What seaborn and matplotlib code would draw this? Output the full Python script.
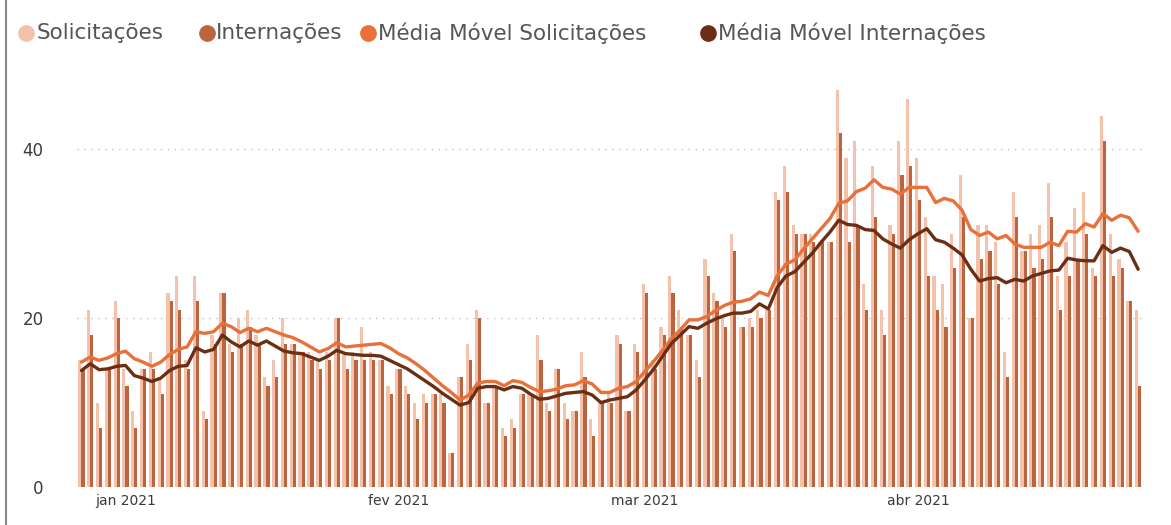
import pandas as pd
import matplotlib.pyplot as plt
import seaborn as sns
from matplotlib.lines import Line2D

# Daily values (27 dez 2020 .. 26 abr 2021)
dias = pd.date_range("2020-12-27", "2021-04-26", freq="D")

solicitacoes = [15, 21, 10, 14, 22, 14, 9, 14, 16, 13, 23, 25, 15, 25, 9, 18, 23, 17, 20, 21,
                18, 13, 15, 20, 17, 16, 16, 15, 16, 20, 16, 16, 19, 16, 15, 12, 14, 12, 10, 11,
                11, 11, 4, 13, 17, 21, 10, 12, 7, 8, 11, 11, 18, 10, 14, 10, 9, 16, 8, 10,
                11, 18, 9, 17, 24, 15, 19, 25, 21, 18, 15, 27, 23, 20, 30, 19, 20, 21, 21, 35,
                38, 31, 30, 30, 29, 29, 47, 39, 41, 24, 38, 21, 31, 41, 46, 39, 32, 25, 24, 30,
                37, 20, 31, 31, 29, 16, 35, 28, 30, 31, 36, 25, 29, 33, 35, 26, 44, 30, 27, 22,
                21]

internacoes = [14, 18, 7, 14, 20, 12, 7, 14, 14, 11, 22, 21, 14, 22, 8, 17, 23, 16, 17, 19,
               17, 12, 13, 17, 17, 16, 15, 14, 15, 20, 14, 15, 15, 15, 15, 11, 14, 11, 8, 10,
               11, 10, 4, 13, 15, 20, 10, 12, 6, 7, 11, 11, 15, 9, 14, 8, 9, 13, 6, 10,
               10, 17, 9, 16, 23, 14, 18, 23, 19, 18, 13, 25, 22, 19, 28, 19, 19, 20, 21, 34,
               35, 30, 30, 29, 29, 29, 42, 29, 31, 21, 32, 18, 30, 37, 38, 34, 25, 21, 19, 26,
               32, 20, 27, 28, 24, 13, 32, 28, 26, 27, 32, 21, 25, 27, 30, 25, 41, 25, 26, 22,
               12]

mm_solicitacoes = [14.8, 15.4, 15.0, 15.3, 15.8, 16.1, 15.2, 14.8, 14.3, 14.8, 15.7, 16.3, 16.6,
                   18.4, 18.2, 18.4, 19.4, 19.0, 18.3, 18.8, 18.4, 18.8, 18.4, 18.0, 17.7, 17.2,
                   16.6, 16.0, 16.4, 17.1, 16.6, 16.7, 16.8, 16.9, 17.0, 16.5, 15.8, 15.3, 14.6,
                   13.8, 12.9, 12.0, 11.2, 10.3, 10.9, 12.3, 12.5, 12.5, 12.0, 12.6, 12.4, 11.8,
                   11.3, 11.4, 11.6, 12.0, 12.1, 12.6, 12.2, 11.2, 11.2, 11.7, 11.9, 12.5, 13.7,
                   14.9, 16.2, 17.6, 18.6, 19.8, 19.8, 20.2, 20.9, 21.5, 21.9, 22.0, 22.3, 23.1,
                   22.7, 25.0, 26.4, 26.9, 28.2, 29.4, 30.6, 31.8, 33.6, 33.9, 35.0, 35.4, 36.4,
                   35.5, 35.3, 34.7, 35.5, 35.5, 35.5, 33.7, 34.2, 33.9, 32.8, 30.5, 29.8, 30.2,
                   29.4, 29.8, 28.8, 28.4, 28.4, 28.4, 29.0, 28.6, 30.3, 30.2, 31.2, 30.8, 32.4,
                   31.6, 32.2, 31.9, 30.3]

mm_internacoes = [13.8, 14.6, 13.9, 14.0, 14.3, 14.4, 13.2, 12.9, 12.5, 12.9, 13.8, 14.3, 14.4,
                  16.5, 16.0, 16.3, 18.0, 17.2, 16.6, 17.3, 16.8, 17.3, 16.7, 16.1, 15.9, 15.8,
                  15.4, 15.0, 15.5, 16.2, 15.8, 15.7, 15.6, 15.6, 15.5, 15.0, 14.5, 14.0, 13.3,
                  12.6, 11.9, 11.1, 10.4, 9.7, 10.0, 11.7, 11.9, 11.9, 11.5, 11.9, 11.7, 11.0,
                  10.4, 10.5, 10.8, 11.1, 11.2, 11.3, 10.9, 10.0, 10.3, 10.5, 10.7, 11.5, 12.7,
                  14.0, 15.5, 17.0, 18.0, 19.0, 18.8, 19.4, 19.9, 20.3, 20.6, 20.6, 20.8, 21.7,
                  21.1, 23.6, 25.0, 25.5, 26.6, 27.7, 29.0, 30.2, 31.6, 31.1, 31.0, 30.5, 30.4,
                  29.4, 28.8, 28.3, 29.3, 30.0, 30.6, 29.3, 29.0, 28.3, 27.5, 25.8, 24.4, 24.7,
                  24.8, 24.2, 24.6, 24.4, 25.0, 25.3, 25.6, 25.7, 27.1, 26.9, 26.8, 26.8, 28.6,
                  27.8, 28.3, 27.9, 25.8]

meses = ["2021-01-01", "2021-02-01", "2021-03-01", "2021-04-01"]
meses_labels = ["jan 2021", "fev 2021", "mar 2021", "abr 2021"]

series = ["Solicitações", "Internações", "Média Móvel Solicitações", "Média Móvel Internações"]
cor_sol = "#F4C2AB"
cor_int = "#BA6540"
cor_mm_sol = "#E8703A"
cor_mm_int = "#6A2E14"

idx = list(range(len(dias)))
barras = pd.DataFrame({
    "dia": idx * 2,
    "serie": [series[0]] * len(idx) + [series[1]] * len(idx),
    "valor": solicitacoes + internacoes,
})

sns.set_style("white")
plt.rcParams["font.family"] = ["DejaVu Sans"]

fig = plt.figure(figsize=(11.71, 5.25), dpi=100)
ax = fig.add_axes([0.0658, 0.0724, 0.9095, 0.8038])

sns.barplot(data=barras, x="dia", y="valor", hue="serie",
            palette=[cor_sol, cor_int], width=0.72, saturation=1,
            errorbar=None, legend=False, linewidth=0, ax=ax)
sns.lineplot(x=idx, y=mm_solicitacoes, color=cor_mm_sol, linewidth=2.4, ax=ax)
sns.lineplot(x=idx, y=mm_internacoes, color=cor_mm_int, linewidth=2.4, ax=ax)

ax.set_xlim(-0.5, len(idx) - 0.55)
ax.set_ylim(0, 50)
ax.set_yticks([0, 20, 40])
ax.yaxis.grid(True, linestyle=(0, (1, 4)), color="#c4c4c4", linewidth=1)
ax.set_axisbelow(True)

pos = [dias.get_loc(pd.Timestamp(m)) for m in meses]
ax.set_xticks(pos)
ax.set_xticklabels(meses_labels)
ax.set_xlabel("")
ax.set_ylabel("")
ax.tick_params(axis="y", length=0, pad=24, labelsize=12, labelcolor="#3a3a3a")
ax.tick_params(axis="x", length=0, pad=5, labelsize=10, labelcolor="#3a3a3a")
sns.despine(ax=ax, left=True, bottom=True)

# legenda manual (ponto + texto), como no Power BI
W, H = 1171, 525
leg_y = 1 - 33 / H
for cor, nome, x_dot, x_txt in zip([cor_sol, cor_int, cor_mm_sol, cor_mm_int], series,
                                   [26, 207, 368, 708], [37, 216, 378, 718]):
    fig.add_artist(Line2D([x_dot / W], [leg_y], marker="o", linestyle="",
                          markersize=11, color=cor))
    fig.text(x_txt / W, leg_y, nome, fontsize=15.5, color="#555555", va="center", ha="left")

# painel: borda esquerda
fig.add_artist(Line2D([0.005, 0.005], [0, 1], color="#8a8a8a", linewidth=1.5))

fig.savefig("out.png", dpi=100)
